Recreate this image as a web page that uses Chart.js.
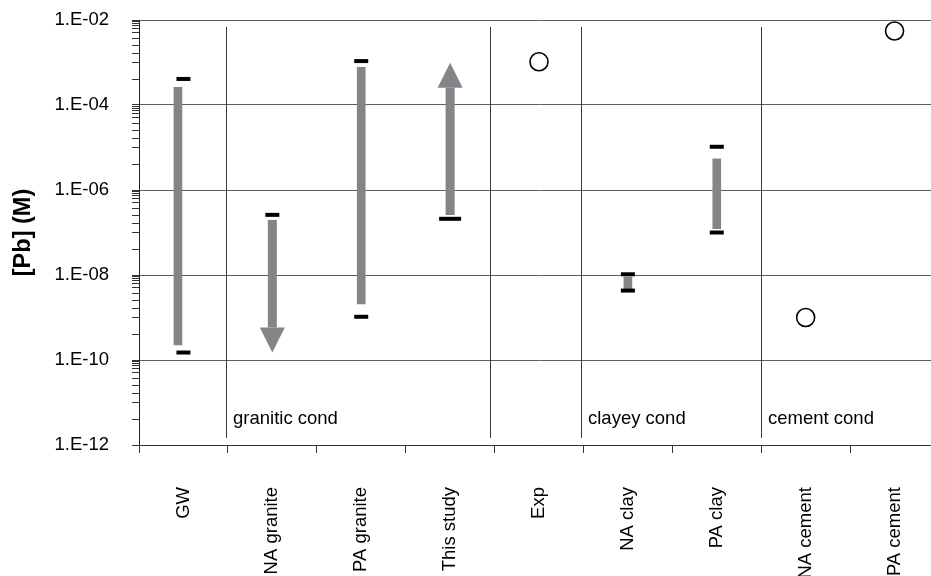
<!DOCTYPE html>
<html>
<head>
<meta charset="utf-8">
<script src="https://cdn.jsdelivr.net/npm/chart.js@4.4.1/dist/chart.umd.min.js"></script>
<style>
  html, body { margin: 0; padding: 0; background: #fff; overflow: hidden; }
  #wrap { width: 950px; height: 576px; }
</style>
</head>
<body>
<div id="wrap"><canvas id="c" width="950" height="576"></canvas></div>
<script>
// Categories along the x axis
const categories = ['GW', 'NA granite', 'PA granite', 'This study', 'Exp', 'NA clay', 'PA clay', 'NA cement', 'PA cement'];

// Gray range bars: lower and upper bound of each range (M)
const rangeLow  = [2.25e-10, null, 2.1e-9, null, null, 4.4e-9, 1.23e-7, null, null];
const rangeHigh = [2.6e-4,   null, 7.7e-4, null, null, 9.0e-9, 5.4e-6,  null, null];

// Black dashes: reported maximum and minimum values (M)
const dashMax = [4.1e-4,  2.6e-7, 1.08e-3, null,   null, 1.04e-8, 1.04e-5, null, null];
const dashMin = [1.5e-10, null,   1.04e-9, 2.1e-7, null, 4.3e-9,  1.0e-7,  null, null];

// Single values shown as open circles (M)
const pointValues = [null, null, null, null, 1.04e-3, null, null, 1.0e-9, 5.5e-3];

// Open-ended ranges drawn as arrows: start value and arrow tip value (M)
const arrowCategories = ['NA granite', 'This study'];
const arrowFrom = [1.97e-7, 2.58e-7];
const arrowTo   = [1.5e-10, 9.9e-4];

// Y axis ticks
const yMajorTicks = [1e-12, 1e-10, 1e-8, 1e-6, 1e-4, 1e-2];
const yTickLabels = ['1.E-12', '1.E-10', '1.E-08', '1.E-06', '1.E-04', '1.E-02'];
const yMinorSteps = [4, 10, 16, 25, 36, 50, 63, 74, 83, 92];

// Condition groups: divider positions (in category units) and group labels
const dividerAt = [0.475, 3.444, 4.478, 6.5];
const regionNames = ['granitic cond', 'clayey cond', 'cement cond'];
const regionDivider = [0, 2, 3];

const FONT = '"Liberation Sans", Arial, Helvetica, sans-serif';
const BAR_GRAY = '#858489';
const WIDE_DASH = 'This study';
// horizontal nudge (px) of a range bar relative to its dashes
const barShift = { 'GW': -5.5 };

// full tick list: majors plus minor marks inside each two-decade step
const yTickValues = [];
for (let k = 0; k < yMajorTicks.length; k++) {
  yTickValues.push(yMajorTicks[k]);
  if (k < yMajorTicks.length - 1) yMinorSteps.forEach(s => yTickValues.push(yMajorTicks[k] * s));
}
function majorIndex(v) {
  if (v == null) return -1;
  return yMajorTicks.findIndex(m => Math.abs(Math.log10(m) - Math.log10(v)) < 1e-6);
}

const overlay = {
  id: 'overlay',
  afterDatasetsUpdate(chart) {
    const meta = chart.getDatasetMeta(0);
    meta.data.forEach((el, i) => {
      const s = barShift[categories[i]];
      if (s) el.x += s;
    });
  },
  beforeDatasetsDraw(chart) {
    const { ctx, chartArea: a, scales: { x, y } } = chart;
    ctx.save();
    // group dividers
    ctx.strokeStyle = '#3a3a3a';
    ctx.lineWidth = 1;
    const divPx = dividerAt.map(d => Math.round(x.getPixelForValue(d)) + 0.5);
    divPx.forEach(px => {
      ctx.beginPath();
      ctx.moveTo(px, a.top + 7);
      ctx.lineTo(px, a.bottom - 7);
      ctx.stroke();
    });
    // group labels
    ctx.fillStyle = '#000';
    ctx.font = '18.5px ' + FONT;
    ctx.textBaseline = 'alphabetic';
    ctx.textAlign = 'left';
    regionNames.forEach((t, i) => ctx.fillText(t, divPx[regionDivider[i]] + 6.5, a.bottom - 21));
    // arrows for open-ended ranges
    ctx.fillStyle = BAR_GRAY;
    const head = 25, halfHead = 12.5, halfShaft = 4.5;
    arrowCategories.forEach((c, i) => {
      const cx = x.getPixelForValue(categories.indexOf(c));
      const p0 = y.getPixelForValue(arrowFrom[i]);
      const p1 = y.getPixelForValue(arrowTo[i]);
      const dir = Math.sign(p1 - p0);
      const base = p1 - dir * head;
      ctx.fillRect(cx - halfShaft, Math.min(p0, base), 2 * halfShaft, Math.abs(base - p0));
      ctx.beginPath();
      ctx.moveTo(cx - halfHead, base);
      ctx.lineTo(cx + halfHead, base);
      ctx.lineTo(cx, p1);
      ctx.closePath();
      ctx.fill();
    });
    ctx.restore();
  }
};

const dashStyle = {
  type: 'line',
  showLine: false,
  pointStyle: 'line',
  pointRadius: c => categories[c.dataIndex] === WIDE_DASH ? 11 : 7,
  pointBorderWidth: 4,
  pointBorderColor: '#000',
  borderColor: '#000',
  order: 1
};

new Chart(document.getElementById('c'), {
  data: {
    labels: categories,
    datasets: [
      {
        type: 'bar',
        data: rangeLow.map((lo, i) => lo == null ? null : [lo, rangeHigh[i]]),
        backgroundColor: BAR_GRAY,
        barThickness: 8,
        order: 3
      },
      Object.assign({ data: dashMax }, dashStyle),
      Object.assign({ data: dashMin }, dashStyle),
      {
        type: 'line',
        data: pointValues,
        showLine: false,
        pointStyle: 'circle',
        pointRadius: 9,
        pointBorderWidth: 1.6,
        pointBorderColor: '#000',
        pointBackgroundColor: '#fff',
        order: 0
      }
    ]
  },
  options: {
    responsive: false,
    maintainAspectRatio: false,
    animation: false,
    devicePixelRatio: 1,
    events: [],
    layout: { padding: { left: 8, top: 20, right: 8, bottom: 0 } },
    plugins: { legend: { display: false }, tooltip: { enabled: false } },
    scales: {
      x: {
        type: 'category',
        offset: true,
        afterFit(scale) {
          scale.height = 131;
          scale.paddingLeft = 0;
          scale.paddingRight = 0;
        },
        grid: { offset: true, drawOnChartArea: false, tickLength: 8, color: '#333' },
        border: { color: '#333', width: 1 },
        ticks: {
          autoSkip: false, minRotation: 90, maxRotation: 90, padding: 34,
          color: '#000', font: { family: FONT, size: 18.5 }
        }
      },
      y: {
        type: 'logarithmic',
        min: 1e-12,
        max: 1e-2,
        afterBuildTicks(scale) { scale.ticks = yTickValues.map(v => ({ value: v })); },
        afterFit(scale) {
          scale.width = 131;
          scale.paddingTop = 0;
          scale.paddingBottom = 0;
        },
        grid: {
          tickLength: 7,
          lineWidth: 1,
          color: c => majorIndex(c.tick && c.tick.value) >= 0 ? '#5e5e5e' : 'rgba(0,0,0,0)',
          tickColor: '#333'
        },
        border: { color: '#222', width: 1 },
        ticks: {
          autoSkip: false,
          padding: 23,
          color: '#000',
          font: { family: FONT, size: 18.5 },
          callback: v => { const i = majorIndex(v); return i >= 0 ? yTickLabels[i] : ''; }
        },
        title: {
          display: true,
          text: '[Pb] (M)',
          color: '#000',
          font: { family: FONT, size: 23.5, weight: 'bold' },
          padding: { top: 1, bottom: 0 }
        }
      }
    }
  },
  plugins: [overlay]
});
</script>
</body>
</html>
